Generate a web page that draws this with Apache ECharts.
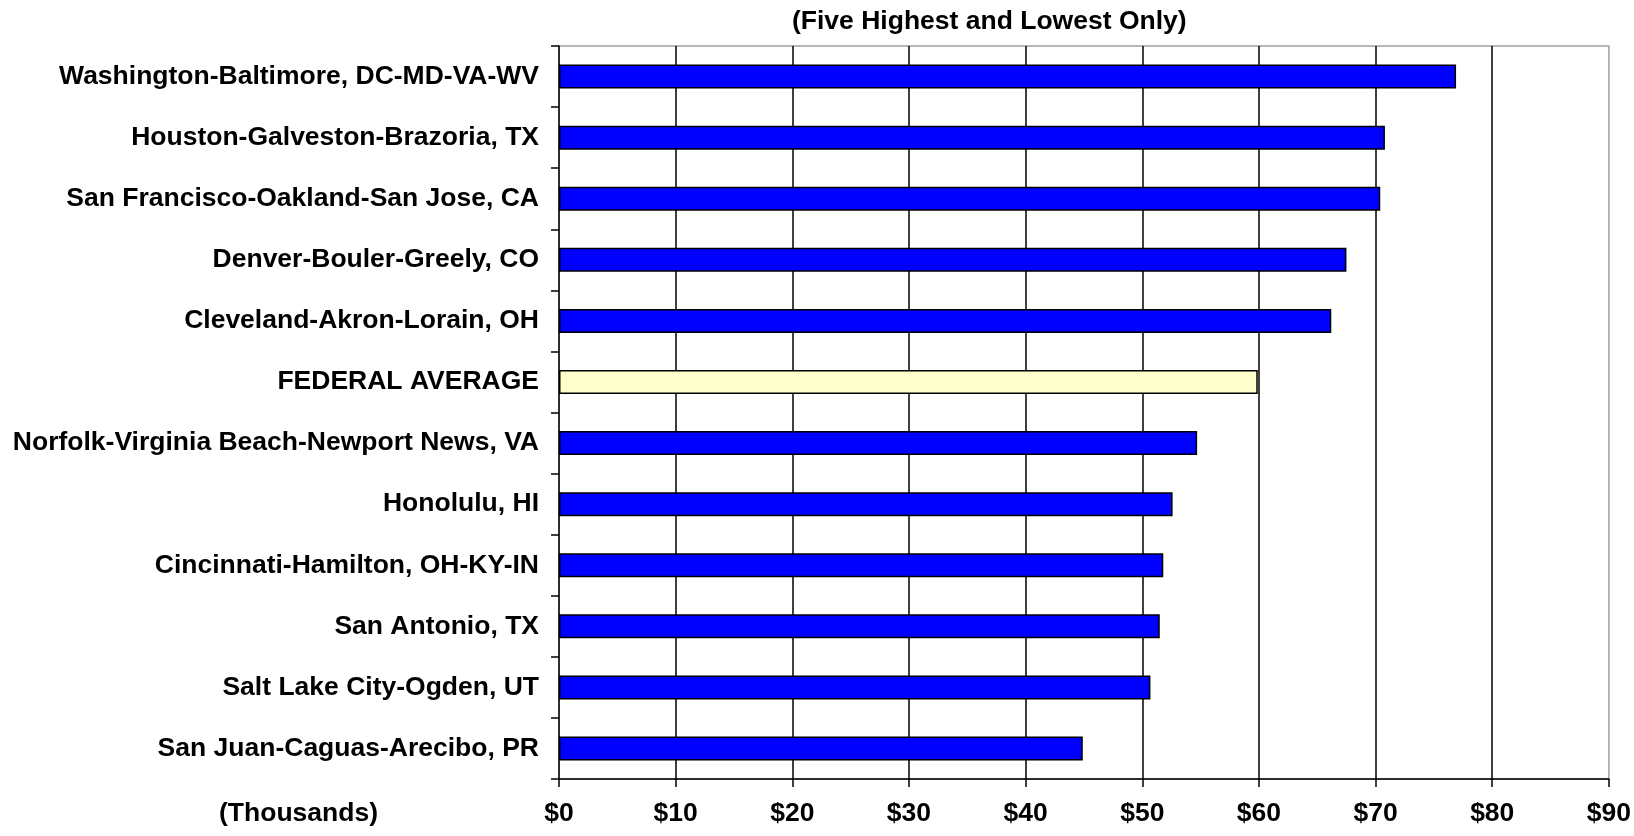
<!DOCTYPE html>
<html>
<head>
<meta charset="utf-8">
<script src="https://cdn.jsdelivr.net/npm/echarts@6/dist/echarts.min.js"></script>
<style>
    html, body { margin: 0; padding: 0; background: #fff; }
    #chart { width: 1634px; height: 836px; }
</style>
</head>
<body>
<div id="chart"></div>
<script>
// areas, top to bottom
var areas = [
    'Washington-Baltimore, DC-MD-VA-WV',
    'Houston-Galveston-Brazoria, TX',
    'San Francisco-Oakland-San Jose, CA',
    'Denver-Bouler-Greely, CO',
    'Cleveland-Akron-Lorain, OH',
    'FEDERAL AVERAGE',
    'Norfolk-Virginia Beach-Newport News, VA',
    'Honolulu, HI',
    'Cincinnati-Hamilton, OH-KY-IN',
    'San Antonio, TX',
    'Salt Lake City-Ogden, UT',
    'San Juan-Caguas-Arecibo, PR'
];
// average salary, thousands of dollars
var salaries = [76.9, 70.8, 70.4, 67.5, 66.2, 59.9, 54.7, 52.6, 51.8, 51.5, 50.7, 44.9];
var xTicks = [0, 10, 20, 30, 40, 50, 60, 70, 80, 90];
var averageName = 'FEDERAL AVERAGE';

var font = 'Liberation Sans, Arial, sans-serif';
var fontSize = 26.5;

var barData = salaries.map(function (v, i) {
    return {
        value: v,
        itemStyle: { color: areas[i] === averageName ? '#ffffcc' : '#0000ff' }
    };
});

var chart = echarts.init(document.getElementById('chart'));
var option = {
    animation: false,
    backgroundColor: '#fff',
    title: [{
        text: '(Five Highest and Lowest Only)',
        left: 792,
        top: 8,
        padding: 0,
        textStyle: { fontFamily: font, fontSize: fontSize, fontWeight: 'bold', color: '#000' }
    }, {
        text: '(Thousands)',
        left: 219,
        top: 800,
        padding: 0,
        textStyle: { fontFamily: font, fontSize: fontSize, fontWeight: 'bold', color: '#000' }
    }],
    grid: {
        left: 559,
        right: 25,
        top: 46,
        bottom: 57,
        show: true,
        borderColor: '#a0a0a0',
        borderWidth: 1.5
    },
    xAxis: {
        type: 'value',
        min: xTicks[0],
        max: xTicks[xTicks.length - 1],
        interval: 10,
        axisLine: { show: true, lineStyle: { color: '#000', width: 1.5 } },
        axisTick: { show: true, length: 8, lineStyle: { color: '#000', width: 1.5 } },
        axisLabel: {
            margin: 21,
            fontFamily: font,
            fontSize: fontSize,
            fontWeight: 'bold',
            color: '#000',
            formatter: function (v) { return '$' + v; }
        },
        splitLine: {
            show: true,
            showMinLine: false,
            showMaxLine: false,
            lineStyle: { color: '#000', width: 1.5 }
        }
    },
    yAxis: {
        type: 'category',
        data: areas,
        inverse: true,
        axisLine: { show: true, lineStyle: { color: '#000', width: 1.5 } },
        axisTick: { show: true, length: 8, interval: 0, lineStyle: { color: '#000', width: 1.5 } },
        axisLabel: {
            margin: 20,
            interval: 0,
            fontFamily: font,
            fontSize: fontSize,
            fontWeight: 'bold',
            color: '#000'
        },
        splitLine: { show: false }
    },
    series: [{
        type: 'bar',
        data: barData,
        barWidth: 24,
        itemStyle: { borderColor: '#000', borderWidth: 1.5 }
    }]
};
chart.setOption(option);
</script>
</body>
</html>
